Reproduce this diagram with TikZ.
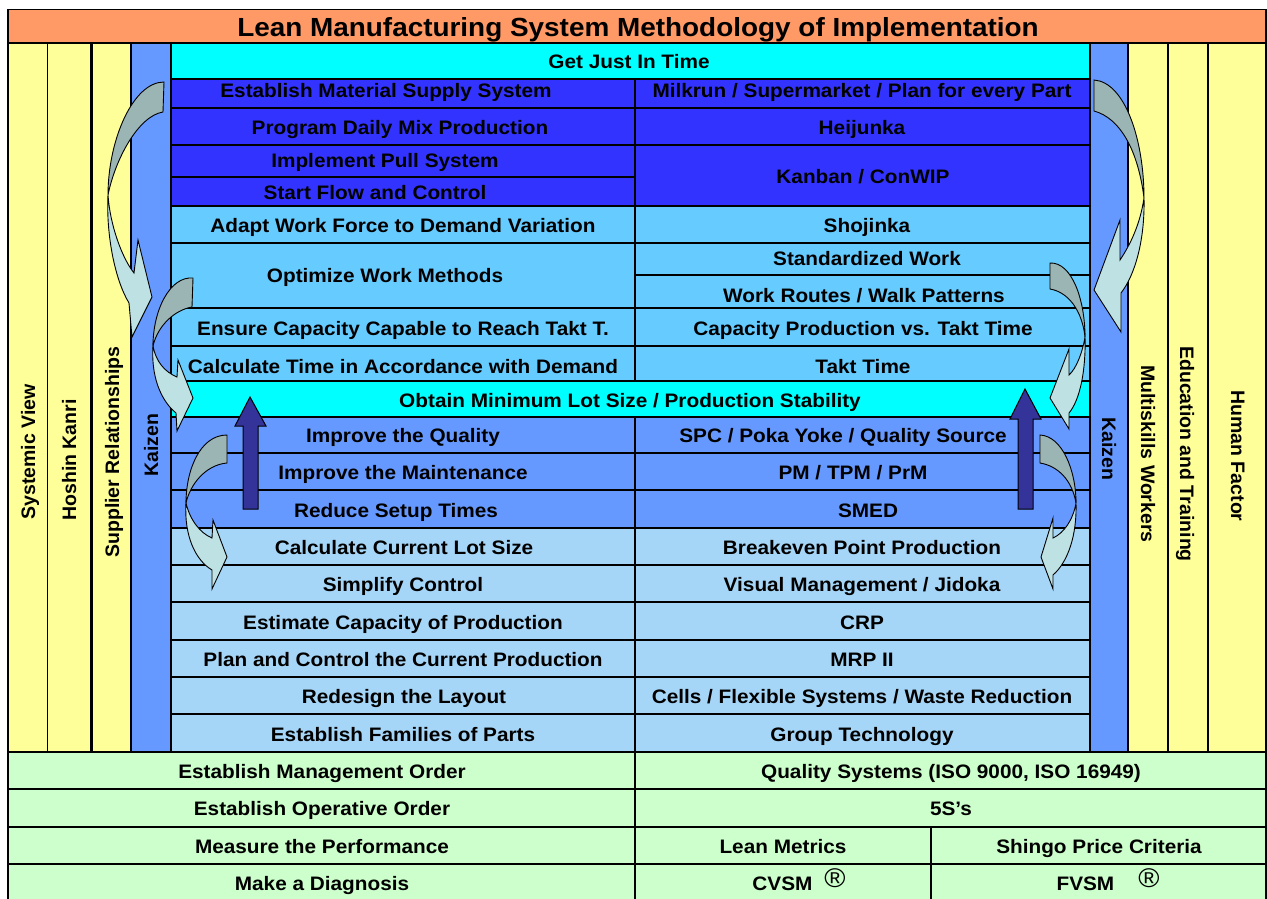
\documentclass[tikz,border=0pt]{standalone}
\usepackage{fontspec}
\setmainfont{Liberation Sans}[FakeStretch=1.065]
\newfontfamily\sidefont{Liberation Sans}

\definecolor{titleorange}{HTML}{FF9966}
\definecolor{sideyellow}{HTML}{FFFF99}
\definecolor{kaizenblue}{HTML}{6699FF}
\definecolor{jitcyan}{HTML}{00FFFF}
\definecolor{flowblue}{HTML}{3333FF}
\definecolor{skyblue}{HTML}{66CCFF}
\definecolor{paleblue}{HTML}{A6D6F7}
\definecolor{basegreen}{HTML}{CCFFCC}
\definecolor{liftblue}{HTML}{333399}
\definecolor{bendback}{HTML}{9BB4B4}
\definecolor{bendfront}{HTML}{BEE1E4}

\tikzset{
  grid/.style={draw=black, line width=1.2pt},
  lbl/.style={inner sep=0pt, text height=14pt, text depth=0pt,
    font=\fontsize{19.5}{21}\selectfont\bfseries},
  ttl/.style={inner sep=0pt, text height=18.8pt, text depth=0pt,
    font=\fontsize{26.2}{28}\selectfont\bfseries},
  sidelbl/.style={lbl, font=\sidefont\fontsize{19.5}{21}\selectfont\bfseries},
  lift/.style={draw=black, line width=1pt, fill=liftblue, line join=miter},
  bendb/.style={draw=black, line width=0.9pt, fill=bendback},
  bendf/.style={draw=black, line width=0.9pt, fill=bendfront},
}

\begin{document}
\begin{tikzpicture}[x=1pt, y=-1pt]
\useasboundingbox (0,0) rectangle (1267,899);

% ---- title bar
\path[grid, fill=titleorange] (8,9.5) rectangle (1266,43);

% ---- side columns
\path[grid, fill=sideyellow] (8,43) rectangle (47.5,752);
\path[grid, fill=sideyellow] (47.5,43) rectangle (91,752);
\path[grid, fill=sideyellow] (92.5,43) rectangle (131,752);
\path[grid, fill=kaizenblue] (131,43) rectangle (171,752);
\path[grid, fill=kaizenblue] (1090,43) rectangle (1128,752);
\path[grid, fill=sideyellow] (1128,43) rectangle (1168,752);
\path[grid, fill=sideyellow] (1168,43) rectangle (1208,752);
\path[grid, fill=sideyellow] (1208,43) rectangle (1266,752);

% ---- central table
\path[grid, fill=jitcyan] (171,43) rectangle (1090,79);
\path[grid, fill=flowblue] (171,79) rectangle (635,108);
\path[grid, fill=flowblue] (635,79) rectangle (1090,108);
\path[grid, fill=flowblue] (171,108) rectangle (635,145);
\path[grid, fill=flowblue] (635,108) rectangle (1090,145);
\path[grid, fill=flowblue] (171,145) rectangle (635,177);
\path[grid, fill=flowblue] (171,177) rectangle (635,206);
\path[grid, fill=flowblue] (635,145) rectangle (1090,206);
\path[grid, fill=skyblue] (171,206) rectangle (635,243);
\path[grid, fill=skyblue] (635,206) rectangle (1090,243);
\path[grid, fill=skyblue] (171,243) rectangle (635,308);
\path[grid, fill=skyblue] (635,243) rectangle (1090,275);
\path[grid, fill=skyblue] (635,275) rectangle (1090,308);
\path[grid, fill=skyblue] (171,308) rectangle (635,346);
\path[grid, fill=skyblue] (635,308) rectangle (1090,346);
\path[grid, fill=skyblue] (171,346) rectangle (635,381);
\path[grid, fill=skyblue] (635,346) rectangle (1090,381);
\path[grid, fill=jitcyan] (171,381) rectangle (1090,417);
\foreach \ya/\yb in {417/453, 453/490, 490/528}{
  \path[grid, fill=kaizenblue] (171,\ya) rectangle (635,\yb);
  \path[grid, fill=kaizenblue] (635,\ya) rectangle (1090,\yb);
}
\foreach \ya/\yb in {528/565, 565/602, 602/640, 640/677, 677/714, 714/752}{
  \path[grid, fill=paleblue] (171,\ya) rectangle (635,\yb);
  \path[grid, fill=paleblue] (635,\ya) rectangle (1090,\yb);
}

% ---- foundation rows
\path[grid, fill=basegreen] (8,752) rectangle (635,789);
\path[grid, fill=basegreen] (635,752) rectangle (1266,789);
\path[grid, fill=basegreen] (8,789) rectangle (635,827);
\path[grid, fill=basegreen] (635,789) rectangle (1266,827);
\path[grid, fill=basegreen] (8,827) rectangle (635,864);
\path[grid, fill=basegreen] (635,827) rectangle (931,864);
\path[grid, fill=basegreen] (931,827) rectangle (1266,864);
\fill[basegreen] (8,864) rectangle (1266,899);
\draw[grid] (8,899) -- (8,864) -- (1266,864) -- (1266,899);
\draw[grid] (635,864) -- (635,899);
\draw[grid] (931,864) -- (931,899);

% ---- upward block arrows
\path[lift] (243,509) -- (243,426) -- (235,426) -- (250,397) -- (266,426) -- (258,426) -- (258,509) -- cycle;
\path[lift] (1018,509) -- (1018,419) -- (1010,419) -- (1025,389) -- (1041,419) -- (1033,419) -- (1033,509) -- cycle;

% ---- curved arrows, left side
\path[bendb] (164,82) .. controls (133,82) and (108,140) .. (108,195)
  .. controls (115,160) and (138,116) .. (163,112) -- cycle;
\path[bendf] (108,195) .. controls (110,225) and (122,258) .. (134,273)
  -- (138,240) -- (152,297) -- (132,337) -- (129,303)
  .. controls (115,280) and (106,235) .. (108,195) -- cycle;

\path[bendb] (193,278) .. controls (170,276) and (153,310) .. (153,346)
  .. controls (158,325) and (175,310) .. (192,307) -- cycle;
\path[bendf] (153,346) .. controls (156,362) and (165,372) .. (177,377)
  -- (178,360) -- (193,398) -- (177,431) -- (176,413)
  .. controls (160,400) and (151,375) .. (153,346) -- cycle;

\path[bendb] (227,435) .. controls (200,435) and (186,470) .. (186,503)
  .. controls (190,485) and (205,465) .. (227,463) -- cycle;
\path[bendf] (186,503) .. controls (190,520) and (200,533) .. (212,538)
  -- (213,520) -- (227,557) -- (212,589) -- (212,570)
  .. controls (195,560) and (184,535) .. (186,503) -- cycle;

% ---- curved arrows, right side
\path[bendb] (1094,80) .. controls (1125,82) and (1144,140) .. (1144,198)
  .. controls (1138,150) and (1120,118) .. (1094,111) -- cycle;
\path[bendf] (1144,198) .. controls (1140,225) and (1130,245) .. (1120,260)
  -- (1120,220) -- (1094,290) -- (1121,332) -- (1121,293)
  .. controls (1135,275) and (1145,240) .. (1144,198) -- cycle;

\path[bendb] (1050,263) .. controls (1072,262) and (1085,300) .. (1085,337)
  .. controls (1082,310) and (1068,292) .. (1050,289) -- cycle;
\path[bendf] (1085,337) .. controls (1083,350) and (1077,368) .. (1069,375)
  -- (1069,349) -- (1050,398) -- (1069,429) -- (1069,413)
  .. controls (1080,400) and (1086,370) .. (1085,337) -- cycle;

\path[bendb] (1040,435) .. controls (1062,436) and (1076,470) .. (1076,503)
  .. controls (1072,480) and (1058,466) .. (1040,463) -- cycle;
\path[bendf] (1076,503) .. controls (1073,520) and (1064,533) .. (1053,538)
  -- (1053,518) -- (1041,557) -- (1053,589) -- (1053,575)
  .. controls (1068,562) and (1077,535) .. (1076,503) -- cycle;

% ---- texts
\node[ttl] (title) at (638,27) {Lean Manufacturing System Methodology of Implementation};

\node[sidelbl, rotate=90] (systemic) at (28,452) {Systemic View};
\node[sidelbl, rotate=90] (hoshin) at (69,460) {Hoshin Kanri};
\node[sidelbl, rotate=90] (supplier) at (112,452) {Supplier Relationships};
\node[sidelbl, rotate=90] (kaizenL) at (151,445) {Kaizen};
\node[sidelbl, rotate=-90] (kaizenR) at (1109,449) {Kaizen};
\node[sidelbl, rotate=-90] (multi) at (1148,454) {Multiskills Workers};
\node[sidelbl, rotate=-90] (educ) at (1187,454) {Education and Training};
\node[sidelbl, rotate=-90] (human) at (1238,456) {Human Factor};

\node[lbl] (jit) at (629,62) {Get Just In Time};
\node[lbl] (l1) at (386,90) {Establish Material Supply System};
\node[lbl] (r1) at (862,90) {Milkrun / Supermarket / Plan for every Part};
\node[lbl] (l2) at (400,127) {Program Daily Mix Production};
\node[lbl] (r2) at (862,127) {Heijunka};
\node[lbl] (l3) at (385,160) {Implement Pull System};
\node[lbl] (l4) at (375,192) {Start Flow and Control};
\node[lbl] (r3) at (863,176) {Kanban / ConWIP};
\node[lbl] (l5) at (403,225) {Adapt Work Force to Demand Variation};
\node[lbl] (r5) at (867,225) {Shojinka};
\node[lbl] (l6) at (385,275) {Optimize Work Methods};
\node[lbl] (r6a) at (867,258) {Standardized Work};
\node[lbl] (r6b) at (864,295) {Work Routes / Walk Patterns};
\node[lbl] (l7) at (403,328) {Ensure Capacity Capable to Reach Takt T.};
\node[lbl] (r7) at (863,328) {Capacity Production vs. Takt Time};
\node[lbl] (l8) at (403,366) {Calculate Time in Accordance with Demand};
\node[lbl] (r8) at (863,366) {Takt Time};
\node[lbl] (lot) at (630,400) {Obtain Minimum Lot Size / Production Stability};
\node[lbl] (l10) at (403,435) {Improve the Quality};
\node[lbl] (r10) at (843,435) {SPC / Poka Yoke / Quality Source};
\node[lbl] (l11) at (403,472) {Improve the Maintenance};
\node[lbl] (r11) at (853,472) {PM / TPM / PrM};
\node[lbl] (l12) at (396,510) {Reduce Setup Times};
\node[lbl] (r12) at (868,510) {SMED};
\node[lbl] (l13) at (404,547) {Calculate Current Lot Size};
\node[lbl] (r13) at (862,547) {Breakeven Point Production};
\node[lbl] (l14) at (403,584) {Simplify Control};
\node[lbl] (r14) at (862,584) {Visual Management / Jidoka};
\node[lbl] (l15) at (403,622) {Estimate Capacity of Production};
\node[lbl] (r15) at (862,622) {CRP};
\node[lbl] (l16) at (403,659) {Plan and Control the Current Production};
\node[lbl] (r16) at (862,659) {MRP II};
\node[lbl] (l17) at (404,696) {Redesign the Layout};
\node[lbl] (r17) at (862,696) {Cells / Flexible Systems / Waste Reduction};
\node[lbl] (l18) at (403,734) {Establish Families of Parts};
\node[lbl] (r18) at (862,734) {Group Technology};

\node[lbl] (b1l) at (322,771) {Establish Management Order};
\node[lbl] (b1r) at (951,771) {Quality Systems (ISO 9000, ISO 16949)};
\node[lbl] (b2l) at (322,808) {Establish Operative Order};
\node[lbl] (b2r) at (951,808) {5S’s};
\node[lbl] (b3l) at (322,846) {Measure the Performance};
\node[lbl] (b3m) at (783,846) {Lean Metrics};
\node[lbl] (b3r) at (1099,846) {Shingo Price Criteria};
\node[lbl] (b4l) at (322,883) {Make a Diagnosis};
\node[lbl] (b4m) at (799,883) {CVSM\hspace{12pt}{\mdseries\fontsize{27}{27}\selectfont\raisebox{3pt}{®}}};
\node[lbl] (b4r) at (1108,883) {FVSM\hspace{24pt}{\mdseries\fontsize{27}{27}\selectfont\raisebox{3pt}{®}}};
\end{tikzpicture}
\end{document}
